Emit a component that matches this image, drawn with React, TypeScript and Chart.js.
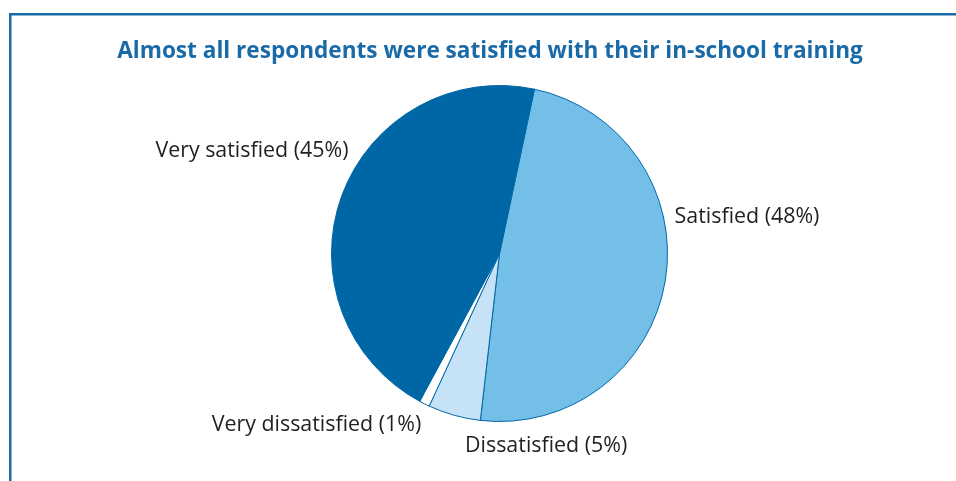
import React, { useEffect, useRef } from "react";
import { Chart, registerables } from "chart.js";

Chart.register(...registerables);

const TITLE = "Almost all respondents were satisfied with their in-school training";
const categories = ["Satisfied", "Dissatisfied", "Very dissatisfied", "Very satisfied"];
const values = [48, 5, 1, 45];
const sliceColors = ["#74bfe8", "#c6e2f6", "#ffffff", "#0067a6"];
// label anchor relative to pie centre, in units of the pie radius
const labelPlacement = [
  { dx: 1.042, dy: -0.181, align: "left" },
  { dx: -0.205, dy: 1.184, align: "left" },
  { dx: -0.466, dy: 1.059, align: "right" },
  { dx: -0.899, dy: -0.573, align: "right" },
];

const TEXT_FONT = '"Open Sans", "Noto Sans", sans-serif';
const FRAME_COLOR = "#1a6aa8";

const framePlugin = {
  id: "frame",
  beforeDraw(chart: any) {
    const ctx = chart.ctx;
    ctx.save();
    ctx.strokeStyle = FRAME_COLOR;
    ctx.lineWidth = 2.5;
    ctx.beginPath();
    ctx.moveTo(10.25, chart.height + 5);
    ctx.lineTo(10.25, 14.25);
    ctx.lineTo(chart.width + 5, 14.25);
    ctx.stroke();
    ctx.restore();
  },
};

const labelPlugin = {
  id: "sliceLabels",
  afterDraw(chart: any) {
    const ctx = chart.ctx;
    const meta = chart.getDatasetMeta(0);
    ctx.save();
    // title
    ctx.font = `bold 22.6px ${TEXT_FONT}`;
    ctx.fillStyle = FRAME_COLOR;
    ctx.textAlign = "center";
    ctx.textBaseline = "alphabetic";
    ctx.fillText(TITLE, 490, 58);
    // slice labels
    ctx.font = `21.4px ${TEXT_FONT}`;
    ctx.fillStyle = "#231f20";
    meta.data.forEach((arc: any, i: number) => {
      const { x, y, outerRadius } = arc.getProps(["x", "y", "outerRadius"], true);
      const p = labelPlacement[i];
      const v = chart.data.datasets[0].data[i];
      ctx.textAlign = p.align;
      ctx.fillText(`${categories[i]} (${v}%)`, x + p.dx * outerRadius, y + p.dy * outerRadius);
    });
    ctx.restore();
  },
};

export default function App() {
  const canvasRef = useRef<HTMLCanvasElement | null>(null);

  useEffect(() => {
    document.body.style.margin = "0";
    const canvas = canvasRef.current;
    if (!canvas) return;
    const chart = new Chart(canvas, {
      type: "pie",
      data: {
        labels: categories,
        datasets: [
          {
            data: values,
            backgroundColor: sliceColors,
            borderColor: "#0067a6",
            borderWidth: 1,
          },
        ],
      },
      options: {
        animation: false,
        responsive: false,
        rotation: 12,
        layout: { padding: { top: 85, bottom: 59, left: 43, right: 0 } },
        plugins: {
          legend: { display: false },
          tooltip: { enabled: false },
          title: { display: false },
        },
      },
      plugins: [framePlugin, labelPlugin],
    });
    return () => chart.destroy();
  }, []);

  return (
    <div style={{ width: 956, height: 481, overflow: "hidden", background: "#fff" }}>
      <canvas ref={canvasRef} width={956} height={481} style={{ display: "block" }} />
    </div>
  );
}
